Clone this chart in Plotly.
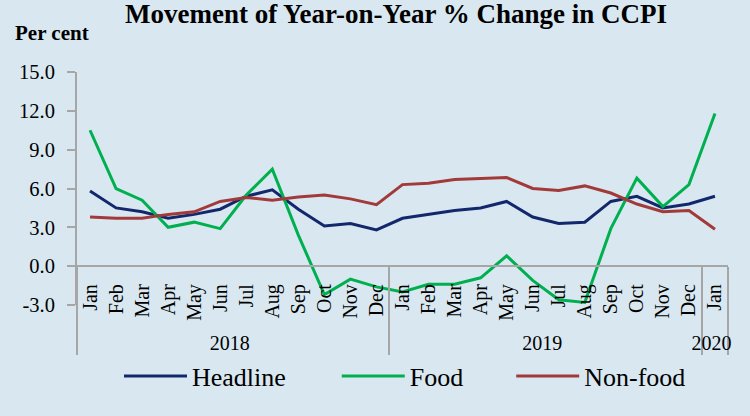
import plotly.graph_objects as go

years = ["2018"] * 12 + ["2019"] * 12 + ["2020"]
months = ["Jan", "Feb", "Mar", "Apr", "May", "Jun", "Jul", "Aug", "Sep", "Oct", "Nov", "Dec"] * 2 + ["Jan"]

headline = [5.8, 4.5, 4.2, 3.7, 4.0, 4.4, 5.4, 5.9, 4.4, 3.1, 3.3, 2.8,
            3.7, 4.0, 4.3, 4.5, 5.0, 3.8, 3.3, 3.4, 5.0, 5.4, 4.5, 4.8, 5.4]
food = [10.5, 6.0, 5.1, 3.0, 3.4, 2.9, 5.5, 7.5, 2.4, -2.2, -1.0, -1.6,
        -2.0, -1.4, -1.4, -0.9, 0.8, -1.1, -2.6, -2.8, 2.9, 6.8, 4.6, 6.3, 11.8]
nonfood = [3.8, 3.7, 3.7, 4.0, 4.2, 5.0, 5.3, 5.1, 5.35, 5.5, 5.2, 4.75,
           6.3, 6.4, 6.7, 6.75, 6.85, 6.0, 5.85, 6.2, 5.65, 4.8, 4.2, 4.3, 2.85]

series = [("Headline", headline, "#13286C", "legend", 0.0645),
          ("Food", food, "#00B050", "legend2", 0.399),
          ("Non-food", nonfood, "#A33A3A", "legend3", 0.667)]

SERIF = "Liberation Serif, Times New Roman, serif"
BG = "#D9E8F0"

fig = go.Figure()
legends = {}
for name, vals, col, lg, lx in series:
    fig.add_trace(go.Scatter(x=[years, months], y=vals, mode="lines", name=name,
                             line=dict(color=col, width=3), legend=lg))
    legends[lg] = dict(orientation="h", x=lx, xanchor="left", y=-0.305, yanchor="middle",
                       font=dict(family=SERIF, size=26), bgcolor="rgba(0,0,0,0)",
                       itemwidth=63)

ymin, ymax = -3, 15
fig.update_layout(
    width=750, height=416,
    paper_bgcolor=BG, plot_bgcolor=BG,
    margin=dict(l=77, r=22, t=72, b=111, autoexpand=False),
    font=dict(family=SERIF, color="#000000", size=20),
    title=dict(text="<b>Movement of Year-on-Year % Change in CCPI</b>",
               x=0.528, xanchor="center", y=1 - 14 / 416, yanchor="middle",
               yref="container", font=dict(family=SERIF, size=27, color="#000000")),
    showlegend=True,
    annotations=[dict(text="<b>Per cent</b>", xref="paper", yref="paper",
                      x=-0.098, y=1.167, xanchor="left", yanchor="middle",
                      showarrow=False, font=dict(family=SERIF, size=21))],
    **legends,
)
fig.update_xaxes(type="multicategory", anchor="free", position=(0 - ymin) / (ymax - ymin),
                 range=[-0.5, 24.5],
                 showline=True, linecolor="#A6A6A6", linewidth=2,
                 showgrid=False, zeroline=False, ticks="",
                 tickangle=-90, tickfont=dict(family=SERIF, size=20),
                 ticklabelstandoff=9,
                 showdividers=True, dividercolor="#A6A6A6", dividerwidth=2)
fig.update_yaxes(range=[ymin, ymax], tickvals=[-3, 0, 3, 6, 9, 12, 15],
                 ticktext=["-3.0", "0.0", "3.0", "6.0", "9.0", "12.0", "15.0"],
                 showline=True, linecolor="#A6A6A6", linewidth=2,
                 ticks="outside", ticklen=8, tickcolor="#A6A6A6", tickwidth=2,
                 showgrid=False, zeroline=False, tickfont=dict(family=SERIF, size=20.5),
                 ticklabelstandoff=8)
fig.write_html("out.html", config={"displayModeBar": False},
               post_script="document.body.style.margin='0px';")
